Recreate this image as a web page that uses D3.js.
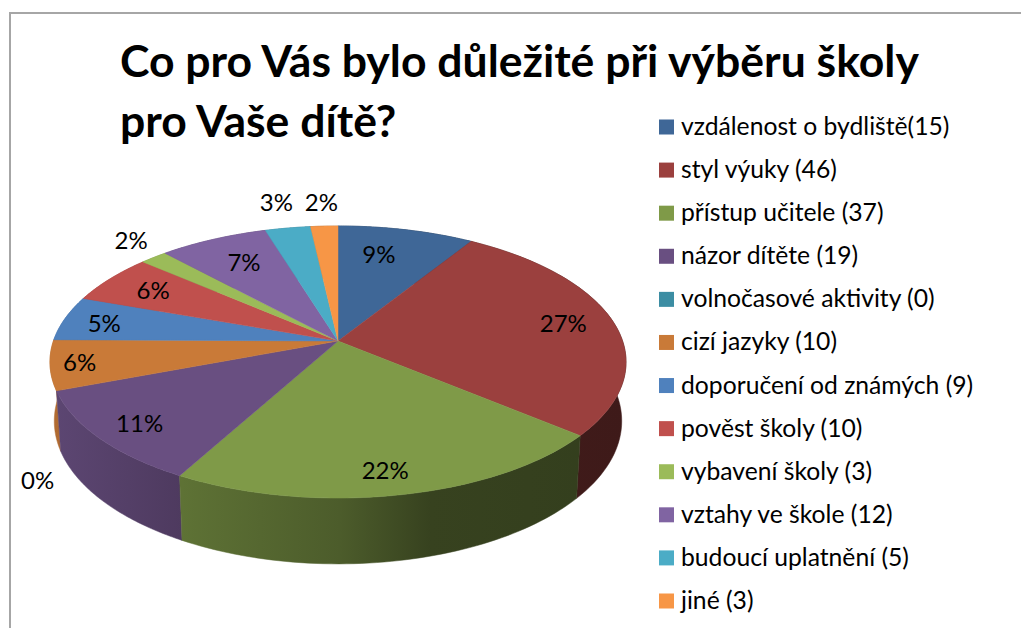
<!DOCTYPE html>
<html>
<head>
<meta charset="utf-8">
<script src="https://cdn.jsdelivr.net/npm/d3@7"></script>
<style>
  html, body { margin: 0; background: #fff; }
  svg { display: block; }
  text { font-family: Lato, "Noto Sans", sans-serif; fill: #000; }
</style>
</head>
<body>
<script>
// chart data
var titleLines = ['Co pro Vás bylo důležité při výběru školy', 'pro Vaše dítě?'];
var categories = ['vzdálenost o bydliště(15)', 'styl výuky (46)', 'přístup učitele (37)', 'názor dítěte (19)',
  'volnočasové aktivity (0)', 'cizí jazyky (10)', 'doporučení od známých (9)', 'pověst školy (10)',
  'vybavení školy (3)', 'vztahy ve škole (12)', 'budoucí uplatnění (5)', 'jiné (3)'];
var values = [15, 46, 37, 19, 0, 10, 9, 10, 3, 12, 5, 3];
var percentLabels = ['9%', '27%', '22%', '11%', '0%', '6%', '5%', '6%', '2%', '7%', '3%', '2%'];
var colors = ['#3f6797', '#9b403e', '#7f9a48', '#694f81', '#3c8da3', '#c97a38',
  '#4f81bd', '#c0504d', '#9bbb59', '#8064a2', '#4bacc6', '#f79646'];

// where each percent label sits: fraction of the radius, and degrees off the slice middle
var labelRadius = [0.74, 0.82, 0.86, 0.85, 1.28, 0.90, 0.85, 0.80, 1.19, 0.75, 1.27, 1.25];
var labelShift = [-3.5, -0.6, 1, -0.5, -24, 0, -0.8, 0, 2, 0.8, 0, 0];

var width = 1021,
    height = 628;

var svg = d3.select('body')
  .append('svg')
  .attr('width', width)
  .attr('height', height);

// frame, only top and left are inside the picture
svg.append('path')
  .attr('d', 'M10,' + height + 'V13H' + width)
  .attr('fill', 'none')
  .attr('stroke', '#a6a6a6')
  .attr('stroke-width', 2);

// the pie is tilted with perspective, so a circle point goes through this
var cx = 338, cy = 341;
var persp = 0.1544, radX = 284.6, radY = 132.8;

function project(angle, r) {
  var u = Math.sin(angle) * r,
      v = -Math.cos(angle) * r,
      w = 1 - persp * v;
  return [radX * u / w, radY * v / w];
}
function topPoint(angle, r) {
  var p = project(angle, r);
  return [cx + p[0], cy + p[1]];
}
// bottom face of the disc
function bottomPoint(angle) {
  var p = project(angle, 1);
  return [cx + 0.985 * p[0], cy + 58 + 1.05 * p[1]];
}

var pie = d3.pie().sort(null).value(function(d) { return d; });
var slices = pie(values);
var line = d3.line();

function rimAngles(d) {
  return d3.range(0, 61).map(function(i) {
    return d.startAngle + (d.endAngle - d.startAngle) * i / 60;
  });
}

// wall shading goes darker from left to right
var shadeX = [55, 182, 340, 430, 626];
var shade = d3.scaleLinear().domain(shadeX).range([0.88, 0.74, 0.6, 0.43, 0.4]);

var defs = svg.append('defs');
slices.forEach(function(d, i) {
  var base = d3.rgb(colors[i]);
  var grad = defs.append('linearGradient')
    .attr('id', 'wall' + i)
    .attr('gradientUnits', 'userSpaceOnUse')
    .attr('x1', shadeX[0]).attr('x2', shadeX[shadeX.length - 1])
    .attr('y1', 0).attr('y2', 0);
  shadeX.forEach(function(x) {
    var s = shade(x);
    grad.append('stop')
      .attr('offset', (x - shadeX[0]) / (shadeX[shadeX.length - 1] - shadeX[0]))
      .attr('stop-color', d3.rgb(base.r * s, base.g * s, base.b * s).formatHex());
  });
});

// walls first, back ones before front ones
var wallOrder = slices.slice().sort(function(a, b) {
  return Math.cos((b.startAngle + b.endAngle) / 2) - Math.cos((a.startAngle + a.endAngle) / 2);
});

svg.append('g').selectAll('path')
  .data(wallOrder.filter(function(d) { return d.value > 0; }))
  .enter().append('path')
  .attr('d', function(d) {
    var angles = rimAngles(d);
    var pts = angles.map(function(a) { return topPoint(a, 1); })
      .concat(angles.slice().reverse().map(bottomPoint));
    return line(pts) + 'Z';
  })
  .attr('fill', function(d) { return 'url(#wall' + d.index + ')'; })
  .attr('stroke', function(d) { return 'url(#wall' + d.index + ')'; })
  .attr('stroke-width', 0.5);

// top faces
svg.append('g').selectAll('path')
  .data(slices.filter(function(d) { return d.value > 0; }))
  .enter().append('path')
  .attr('d', function(d) {
    var pts = [[cx, cy]].concat(rimAngles(d).map(function(a) { return topPoint(a, 1); }));
    return line(pts) + 'Z';
  })
  .attr('fill', function(d) { return colors[d.index]; })
  .attr('stroke', function(d) { return colors[d.index]; })
  .attr('stroke-width', 0.5);

// percent labels
svg.append('g').selectAll('text')
  .data(slices)
  .enter().append('text')
  .attr('transform', function(d) {
    var mid = (d.startAngle + d.endAngle) / 2 + labelShift[d.index] * Math.PI / 180;
    return 'translate(' + topPoint(mid, labelRadius[d.index]) + ')';
  })
  .attr('text-anchor', 'middle')
  .attr('dy', '0.36em')
  .style('font-size', '24px')
  .text(function(d) { return percentLabels[d.index]; });

// title
svg.append('g').selectAll('text')
  .data(titleLines)
  .enter().append('text')
  .attr('x', 120)
  .attr('y', function(d, i) { return 77 + i * 60; })
  .style('font-size', '44.5px')
  .style('font-weight', 'bold')
  .text(function(d) { return d; });

// legend
var legendY = d3.scalePoint().domain(categories).range([127, 601]);

var legend = svg.append('g').selectAll('g')
  .data(categories)
  .enter().append('g')
  .attr('transform', function(d) { return 'translate(659,' + legendY(d) + ')'; });

legend.append('rect')
  .attr('y', -7.5)
  .attr('width', 15)
  .attr('height', 15)
  .attr('fill', function(d, i) { return colors[i]; });

legend.append('text')
  .attr('x', 22)
  .attr('y', 8)
  .style('font-size', '24.7px')
  .text(function(d) { return d; });
</script>
</body>
</html>
